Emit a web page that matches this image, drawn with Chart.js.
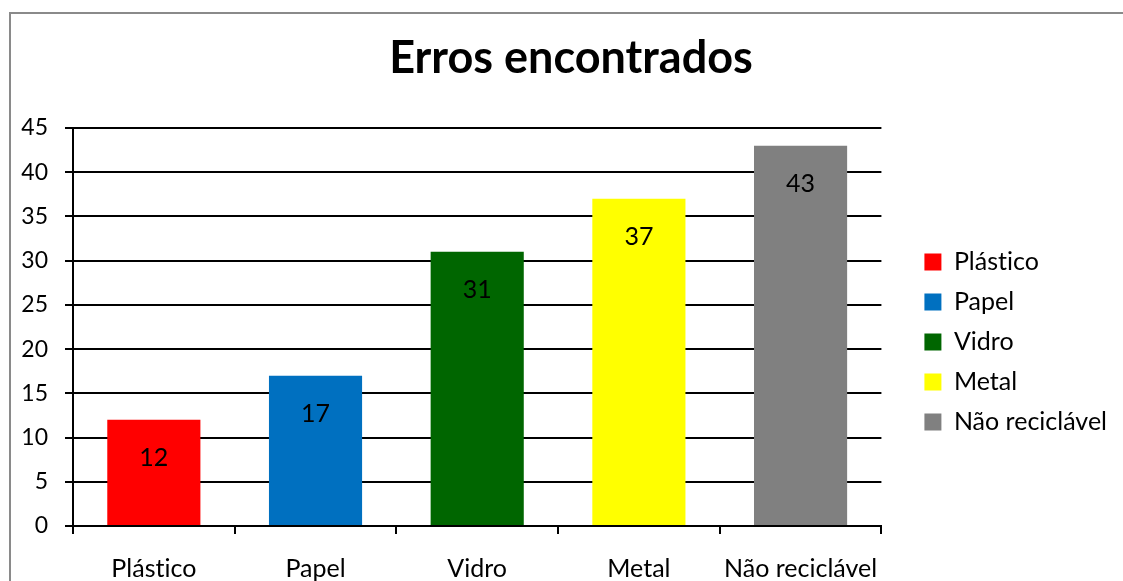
<!DOCTYPE html>
<html>
<head>
<meta charset="utf-8">
<script src="https://cdn.jsdelivr.net/npm/chart.js@4/dist/chart.umd.min.js"></script>
<style>
  html, body { margin: 0; padding: 0; background: #fff; }
  #wrap { position: relative; width: 1123px; height: 581px; overflow: hidden; }
  #frame { position: absolute; left: 9px; top: 12px; width: 1300px; height: 800px; border-top: 2px solid #8a8a8a; border-left: 2px solid #8a8a8a; }
  #c { position: absolute; left: 0; top: 0; }
</style>
</head>
<body>
<div id="wrap">
  <div id="frame"></div>
  <canvas id="c" width="1123" height="581"></canvas>
</div>
<script>
const categories = ["Plástico", "Papel", "Vidro", "Metal", "Não reciclável"];
const values = [12, 17, 31, 37, 43];
const barColors = ["#FF0000", "#0070C0", "#006600", "#FFFF00", "#808080"];
const yTicks = [0, 5, 10, 15, 20, 25, 30, 35, 40, 45];
const chartTitle = "Erros encontrados";

const FONT = "Lato, Carlito, Calibri, 'Open Sans', sans-serif";

const noLigatures = {
  id: 'noLigatures',
  beforeUpdate(chart) { try { chart.ctx.textRendering = 'optimizeSpeed'; } catch (e) {} },
  beforeDraw(chart) { try { chart.ctx.textRendering = 'optimizeSpeed'; } catch (e) {} }
};

// let the legend take its natural width (plus a little blank space on its right)
const legendWidthFix = {
  id: 'legendWidthFix',
  beforeLayout(chart) {
    const lg = chart.legend;
    if (!lg || lg._wfix) return;
    const origFit = lg.fit;
    lg.fit = function () {
      const mw = this.maxWidth;
      this.maxWidth = 1000;
      origFit.call(this);
      this.maxWidth = mw;
      this.width += 6;
    };
    lg._wfix = true;
  }
};

const valueLabels = {
  id: 'valueLabels',
  afterDatasetsDraw(chart) {
    const ctx = chart.ctx;
    const meta = chart.getDatasetMeta(0);
    ctx.save();
    ctx.font = "25px " + FONT;
    ctx.fillStyle = "#000";
    ctx.textAlign = "center";
    ctx.textBaseline = "middle";
    meta.data.forEach((el, i) => {
      ctx.fillText(String(values[i]), el.x, el.y + 38);
    });
    ctx.restore();
  }
};

new Chart(document.getElementById('c'), {
  type: 'bar',
  data: {
    labels: categories,
    datasets: [{
      data: values,
      backgroundColor: barColors,
      borderWidth: 0,
      categoryPercentage: 1,
      barPercentage: 0.576
    }]
  },
  options: {
    responsive: false,
    animation: false,
    devicePixelRatio: 1,
    layout: { padding: { top: 14, left: 19, right: 0, bottom: 0 } },
    plugins: {
      title: {
        display: true,
        text: chartTitle,
        color: '#000',
        font: { family: FONT, size: 45, weight: 'bold' },
        padding: { top: 17, bottom: 43 }
      },
      legend: {
        position: 'right',
        fullSize: false,
        title: {
          display: true,
          text: ' ',
          color: '#000',
          font: { size: 10, lineHeight: 1.2 },
          padding: { top: 18, bottom: 0 }
        },
        labels: {
          boxWidth: 17,
          boxHeight: 17,
          padding: 15,
          color: '#000',
          font: { family: FONT, size: 25 },
          generateLabels(chart) {
            return categories.map((c, i) => ({
              text: c,
              fillStyle: barColors[i],
              strokeStyle: barColors[i],
              fontColor: '#000',
              lineWidth: 0,
              hidden: false,
              index: i,
              datasetIndex: 0
            }));
          }
        }
      },
      tooltip: { enabled: false }
    },
    scales: {
      x: {
        afterFit(axis) { axis.height = 55; },
        grid: {
          display: true,
          offset: true,
          drawOnChartArea: false,
          drawTicks: true,
          tickLength: 8,
          color: '#000',
          lineWidth: 2
        },
        border: { display: true, color: '#000', width: 2 },
        ticks: {
          color: '#000',
          font: { family: FONT, size: 25, lineHeight: 1 },
          padding: 22,
          maxRotation: 0,
          autoSkip: false
        }
      },
      y: {
        min: 0,
        max: 45,
        afterFit(axis) { axis.width = 54; },
        afterBuildTicks(axis) { axis.ticks = yTicks.map(v => ({ value: v })); },
        grid: {
          color: '#000',
          lineWidth: 2,
          drawTicks: true,
          tickLength: 8
        },
        border: { display: true, color: '#000', width: 2 },
        ticks: {
          color: '#000',
          font: { family: FONT, size: 23 },
          padding: 17
        }
      },
      gap: {
        type: 'linear',
        position: 'right',
        display: true,
        afterFit(axis) { axis.width = 28; },
        grid: { display: false },
        border: { display: false },
        ticks: { display: false }
      }
    }
  },
  plugins: [noLigatures, legendWidthFix, valueLabels]
});
</script>
</body>
</html>
